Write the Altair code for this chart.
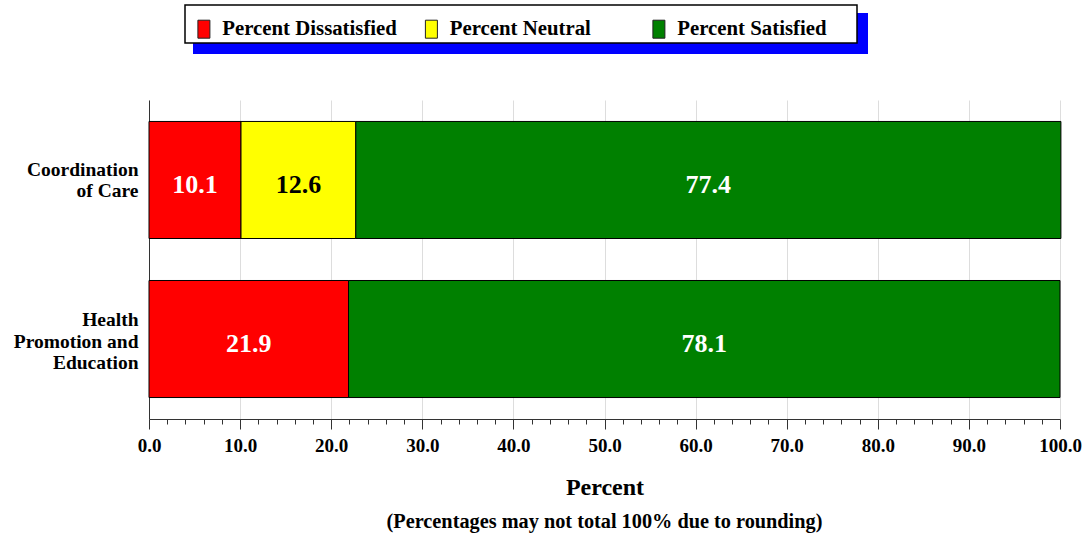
import altair as alt
import pandas as pd

categories = ["Coordination of Care", "Health Promotion and Education"]
responses = ["Percent Dissatisfied", "Percent Neutral", "Percent Satisfied"]
dissatisfied = [10.1, 21.9]
neutral = [12.6, 0.0]
satisfied = [77.4, 78.1]
colors = ["#ff0000", "#ffff00", "#008000"]
x_ticks = list(range(0, 101, 2))

rows = []
for i, cat in enumerate(categories):
    for k, (resp, vals) in enumerate(zip(responses, [dissatisfied, neutral, satisfied])):
        if vals[i] > 0:
            rows.append({"category": cat, "response": resp, "rank": k, "value": vals[i]})
df = pd.DataFrame(rows)

FONT = "Liberation Serif"

base = alt.Chart(df).transform_stack(
    stack="value",
    groupby=["category"],
    as_=["start", "end"],
    sort=[alt.SortField("rank", order="ascending")],
).transform_calculate(mid="(datum.start + datum.end) / 2")

is_coord = "datum.value == 'Coordination of Care'"

y_enc = alt.Y(
    "category:N",
    sort=categories,
    scale=alt.Scale(paddingInner=0.264, paddingOuter=0.135),
    axis=alt.Axis(
        title=None,
        ticks=False,
        domainColor="#333333",
        labelFont=FONT,
        labelFontSize=19.5,
        labelFontWeight="bold",
        labelColor="black",
        labelPadding=11,
        labelLineHeight=21.5,
        labelOffset={"condition": {"test": is_coord, "value": -10}, "value": -19},
        labelExpr=f"{is_coord} ? ['Coordination', 'of Care'] : ['Health', 'Promotion and', 'Education']",
    ),
)

major = "datum.value % 10 === 0"

bars = base.mark_bar(stroke="black", strokeWidth=1).encode(
    x=alt.X(
        "start:Q",
        scale=alt.Scale(domain=[0, 100], nice=False),
        axis=alt.Axis(
            title="Percent",
            values=x_ticks,
            tickCount=200,
            labelExpr=f"{major} ? format(datum.value, '.1f') : ''",
            labelOverlap=False,
            labelFlush=False,
            labelFont=FONT,
            labelFontSize=19,
            labelFontWeight="bold",
            labelColor="black",
            labelPadding=7,
            tickSize={"condition": {"test": major, "value": 10}, "value": 5},
            tickColor="#333333",
            domainColor="#333333",
            grid=True,
            gridColor="#dddddd",
            gridOpacity={"condition": {"test": major, "value": 1}, "value": 0},
            titleFont=FONT,
            titleFontSize=24,
            titleFontWeight="bold",
            titleColor="black",
            titlePadding=20,
        ),
    ),
    x2="end:Q",
    y=y_enc,
    color=alt.Color(
        "response:N",
        scale=alt.Scale(domain=responses, range=colors),
        legend=alt.Legend(
            title=None,
            orient="none",
            legendX=36,
            legendY=-90,
            direction="horizontal",
            padding=8.5,
            symbolType="M-0.667,-1H0.667V1H-0.667Z",
            symbolSize=324,
            symbolStrokeColor="#222222",
            symbolStrokeWidth=1,
            labelFont=FONT,
            labelFontSize=20.8,
            labelFontWeight="bold",
            labelColor="black",
            labelOffset=8,
            labelLimit=400,
            columnPadding=23.5,
            gridAlign="all",
        ),
    ),
)

labels = base.mark_text(font=FONT, fontSize=26, fontWeight="bold", dy=5).encode(
    x="mid:Q",
    y=alt.Y("category:N", sort=categories),
    text=alt.Text("value:Q", format=".1f"),
    color=alt.condition(
        alt.datum.response == "Percent Neutral", alt.value("black"), alt.value("white")
    ),
)

# legend frame: blue drop shadow, then the white box on top of it
shadow = alt.Chart(alt.Data(values=[{}])).mark_rect(color="#0000ff").encode(
    x=alt.value(44), x2=alt.value(719), y=alt.value(-87), y2=alt.value(-46)
)
frame = alt.Chart(alt.Data(values=[{}])).mark_rect(
    fill="white", stroke="black", strokeWidth=1.5
).encode(x=alt.value(36), x2=alt.value(708), y=alt.value(-95), y2=alt.value(-57))

note = alt.Chart(alt.Data(values=[{}])).mark_text(
    text="(Percentages may not total 100% due to rounding)",
    font=FONT,
    fontSize=20.3,
    fontWeight="bold",
    color="black",
).encode(x=alt.value(455.5), y=alt.value(422))

chart = alt.layer(shadow, frame, bars, labels, note).properties(
    width=911,
    height=319,
    autosize=alt.AutoSizeParams(type="none"),
    padding={"left": 149, "top": 100, "right": 28, "bottom": 116},
    background="white",
).configure_view(stroke=None)

chart.save("out.html", embed_options={"renderer": "svg", "actions": False})
